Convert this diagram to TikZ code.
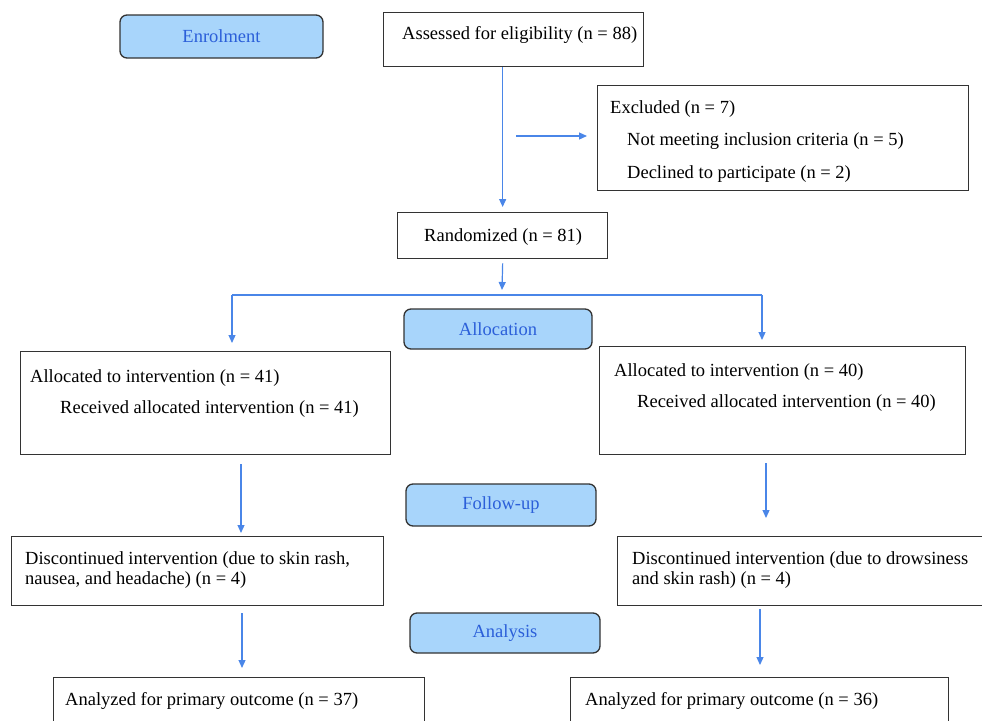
\documentclass[tikz,border=0pt]{standalone}
\usepackage{fontspec}
\setmainfont{Liberation Serif}
\usetikzlibrary{arrows.meta, positioning, calc}
\definecolor{flowblue}{HTML}{4A86E8}
\definecolor{stagefill}{HTML}{A8D5FB}
\definecolor{stagetext}{HTML}{2B5FD9}
\definecolor{boxline}{HTML}{333333}
\tikzset{
  stage/.style={draw=boxline, line width=1.3pt, rounded corners=7pt, fill=stagefill,
                text=stagetext, font=\fontsize{18.5}{20}\selectfont},
  box/.style={draw=boxline, line width=1.3pt, anchor=north west, inner sep=0pt},
  txt/.style={anchor=base west, inner sep=0pt, font=\fontsize{18.5}{20}\selectfont},
  flow/.style={-{Triangle[length=8pt,width=7pt]}, draw=flowblue, line width=1.2pt},
  link/.style={draw=flowblue, line width=1.2pt},
}

\begin{document}
\begin{tikzpicture}[x=1pt, y=-1pt]
  \useasboundingbox (0,0) rectangle (982,720);
  \clip (0,0) rectangle (982,720);
  % stage labels
  \node (enr) [stage, minimum width=203pt, minimum height=43pt] at (221.5,36.5) {Enrolment};
  \node (alc) [stage, minimum width=188pt, minimum height=40pt] at (498,329) {Allocation};
  \node (fol) [stage, minimum width=190pt, minimum height=42pt] at (501,505) {Follow-up};
  \node (ana) [stage, minimum width=190pt, minimum height=40pt] at (505,633) {Analysis};
  % boxes
  \node (ass) [box, minimum width=260pt, minimum height=54pt] at (383,12) {};
  \node (exc) [box, minimum width=371pt, minimum height=105pt] at (597,85) {};
  \node (rnd) [box, minimum width=210pt, minimum height=46pt] at (397,212) {};
  \node (lal) [box, minimum width=370pt, minimum height=103pt] at (20,351) {};
  \node (ral) [box, minimum width=366pt, minimum height=108pt] at (599,346) {};
  \node (ldis) [box, minimum width=372pt, minimum height=69pt] at (11,536) {};
  \node (rdis) [box, minimum width=380pt, minimum height=69pt] at (617,536) {};
  \node (lan) [box, minimum width=371pt, minimum height=60pt] at (53,677) {};
  \node (ran) [box, minimum width=378pt, minimum height=60pt] at (570,677) {};
  % texts
  \node (asst) [txt] at (402,39) {Assessed for eligibility (n = 88)};
  \node (exc1) [txt] at (610,113) {Excluded (n = 7)};
  \node (exc2) [txt] at (627,145) {Not meeting inclusion criteria (n = 5)};
  \node (exc3) [txt] at (627,178) {Declined to participate (n = 2)};
  \node (rndt) [txt] at (424,241) {Randomized (n = 81)};
  \node (lal1) [txt] at (30,382) {Allocated to intervention (n = 41)};
  \node (lal2) [txt] at (60,413) {Received allocated intervention (n = 41)};
  \node (ral1) [txt] at (614,376) {Allocated to intervention (n = 40)};
  \node (ral2) [txt] at (637,407) {Received allocated intervention (n = 40)};
  \node (ldis1) [txt] at (25,564) {Discontinued intervention (due to skin rash,};
  \node (ldis2) [txt] at (25,584) {nausea, and headache) (n = 4)};
  \node (rdis1) [txt] at (632,564) {Discontinued intervention (due to drowsiness};
  \node (rdis2) [txt] at (632,584) {and skin rash) (n = 4)};
  \node (lant) [txt] at (65,705) {Analyzed for primary outcome (n = 37)};
  \node (rant) [txt] at (585,705) {Analyzed for primary outcome (n = 36)};
  % connectors
  \coordinate (exstart) at (516,136);
  \coordinate (split) at (502,295);
  \coordinate (splitl) at (232,295);
  \coordinate (splitr) at (762,295);
  \coordinate (lcol) at (241,0);
  \coordinate (rcol) at (763,0);
  \draw[flow] (ass.south -| rnd.north) -- ($(rnd.north)+(0,-5)$);
  \draw[flow] (exstart) -- ($(exstart -| exc.west)+(-10,0)$);
  \draw[flow] ($(rnd.south)+(0,4)$) -- ($(split)+(0,-5)$);
  \draw[link] (splitl) -- (splitr);
  \draw[flow] (splitl) -- ($(splitl |- lal.north)+(0,-8)$);
  \draw[flow] (splitr) -- ($(splitr |- ral.north)+(0,-6)$);
  \draw[flow] ($(lal.south -| lcol)+(0,9)$) -- ($(ldis.north -| lcol)+(0,-3)$);
  \draw[flow] ($(ral.south -| rcol)+(3,8)$) -- ($(rdis.north -| rcol)+(3,-18)$);
  \draw[flow] ($(ldis.south -| lcol)+(1,7)$) -- ($(lan.north -| lcol)+(1,-9)$);
  \draw[flow] ($(rdis.south -| rcol)+(-3,3)$) -- ($(ran.north -| rcol)+(-3,-12)$);
\end{tikzpicture}
\end{document}
